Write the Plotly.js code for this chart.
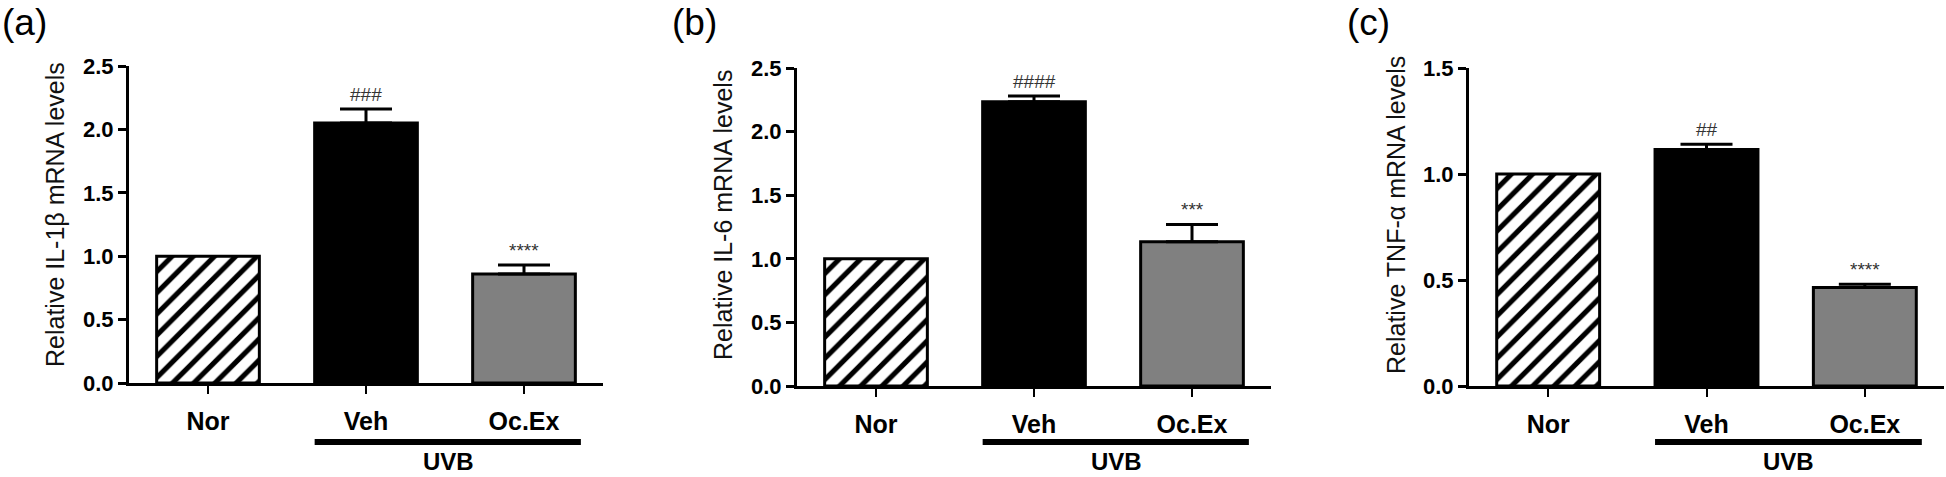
<!DOCTYPE html>
<html>
<head>
<meta charset="utf-8">
<script src="https://cdn.plot.ly/plotly-3.0.1.min.js"></script>
<style>
  html, body { margin: 0; padding: 0; background: #fff; }
  #chart { width: 1946px; height: 477px; }
</style>
</head>
<body>
<div id="chart"></div>
<script>
// ---- data ----
const categories = ['Nor', 'Veh', 'Oc.Ex'];
const groupLabel = 'UVB';
const panelLabels = ['(a)', '(b)', '(c)'];
const yTitles = ['Relative IL-1\u03b2 mRNA levels', 'Relative IL-6 mRNA levels', 'Relative TNF-\u03b1 mRNA levels'];
const yMax = [2.5, 2.5, 1.5];
const yTickVals = [[0, 0.5, 1.0, 1.5, 2.0, 2.5], [0, 0.5, 1.0, 1.5, 2.0, 2.5], [0, 0.5, 1.0, 1.5]];

const il1bValues = [1.0, 2.05, 0.86];
const il1bErrors = [null, 0.11, 0.07];
const il1bMarks = ['', '###', '****'];

const il6Values = [1.0, 2.235, 1.135];
const il6Errors = [null, 0.045, 0.135];
const il6Marks = ['', '####', '***'];

const tnfValues = [1.0, 1.115, 0.465];
const tnfErrors = [null, 0.025, 0.015];
const tnfMarks = ['', '##', '****'];

// ---- layout geometry ----
const W = 1946, H = 477;
const panels = [
  { values: il1bValues, errors: il1bErrors, marks: il1bMarks, xd: [129, 603], yd: [383, 66], labelX: 0, titleX: 55 },
  { values: il6Values, errors: il6Errors, marks: il6Marks, xd: [797, 1271], yd: [386, 68], labelX: 670, titleX: 723 },
  { values: tnfValues, errors: tnfErrors, marks: tnfMarks, xd: [1469, 1944], yd: [386, 68], labelX: 1345, titleX: 1396 }
];

const FONT = 'Liberation Sans, Arial, Helvetica, sans-serif';
const barColors = ['#ffffff', '#000000', '#808080'];
const data = [];
const layout = {
  width: W, height: H,
  margin: { l: 0, r: 0, t: 0, b: 0 },
  paper_bgcolor: '#ffffff', plot_bgcolor: 'rgba(0,0,0,0)',
  showlegend: false,
  barmode: 'overlay',
  font: { family: FONT, color: '#000' },
  annotations: [], shapes: []
};

panels.forEach((p, i) => {
  const n = i === 0 ? '' : String(i + 1);
  const xa = 'x' + n, ya = 'y' + n;
  // hatched control bar (Nor)
  data.push({
    type: 'bar', x: [categories[0]], y: [p.values[0]], xaxis: xa, yaxis: ya,
    width: 0.65, opacity: 1,
    marker: {
      color: '#ffffff',
      line: { color: '#000', width: 3 },
      pattern: { shape: '/', fgcolor: '#000000', bgcolor: '#ffffff', fgopacity: 1, size: 15, solidity: 0.34, fillmode: 'overlay' }
    },
    hoverinfo: 'skip'
  });
  // UVB groups (Veh, Oc.Ex)
  data.push({
    type: 'bar', x: categories.slice(1), y: p.values.slice(1), xaxis: xa, yaxis: ya,
    width: 0.65, opacity: 1,
    marker: { color: barColors.slice(1), line: { color: '#000', width: 3 } },
    error_y: {
      type: 'data', symmetric: false,
      array: p.errors.slice(1), arrayminus: p.errors.slice(1).map(() => 0),
      color: '#000', thickness: 3, width: 26
    },
    hoverinfo: 'skip'
  });
  layout['xaxis' + n] = {
    domain: [p.xd[0] / W, p.xd[1] / W], anchor: ya,
    type: 'category', categoryarray: categories, categoryorder: 'array',
    range: [-0.5, 2.5], fixedrange: true,
    showline: true, linecolor: '#000', linewidth: 3,
    ticks: 'outside', ticklen: 8, tickwidth: 2, tickcolor: '#000',
    tickfont: { family: FONT, size: 25, weight: 'bold', color: '#000' },
    ticklabelstandoff: 6,
    showgrid: false, zeroline: false
  };
  layout['yaxis' + n] = {
    domain: [(H - p.yd[0]) / H, (H - p.yd[1]) / H], anchor: xa,
    range: [0, yMax[i]], fixedrange: true,
    tickvals: yTickVals[i], tickformat: '.1f',
    showline: true, linecolor: '#000', linewidth: 3,
    ticks: 'outside', ticklen: 8, tickwidth: 3, tickcolor: '#000',
    tickfont: { family: FONT, size: 22, weight: 'bold', color: '#000' },
    showgrid: false, zeroline: false
  };
  // y-axis title (rotated)
  layout.annotations.push({
    xref: 'paper', yref: 'paper', x: p.titleX / W, y: (H - 215) / H,
    xanchor: 'center', yanchor: 'middle', textangle: -90,
    text: yTitles[i], showarrow: false,
    font: { family: FONT, size: 25, color: '#111' }
  });
  // significance marks
  p.marks.forEach((m, j) => {
    if (!m) return;
    layout.annotations.push({
      xref: xa, yref: ya, x: categories[j], y: p.values[j] + (p.errors[j] || 0),
      text: m, showarrow: false, yanchor: 'bottom', yshift: 2,
      font: { family: FONT, size: 19, color: '#333' }
    });
  });
  // UVB grouping bar + label
  layout.shapes.push({
    type: 'line', xref: xa, yref: 'paper', x0: 0.675, x1: 2.36,
    y0: (H - 442) / H, y1: (H - 442) / H,
    line: { color: '#000', width: 6 }
  });
  layout.annotations.push({
    xref: xa, yref: 'paper', x: 1.52, y: 0,
    text: groupLabel, showarrow: false, yanchor: 'bottom', xanchor: 'center',
    font: { family: FONT, size: 24, weight: 'bold', color: '#000' }
  });
  // panel label
  layout.annotations.push({
    xref: 'paper', yref: 'paper', x: p.labelX / W, y: 1, xanchor: 'left', yanchor: 'top',
    text: panelLabels[i], showarrow: false,
    font: { family: FONT, size: 37, color: '#000' }
  });
});

Plotly.newPlot('chart', data, layout, { displayModeBar: false, staticPlot: true });
</script>
</body>
</html>
